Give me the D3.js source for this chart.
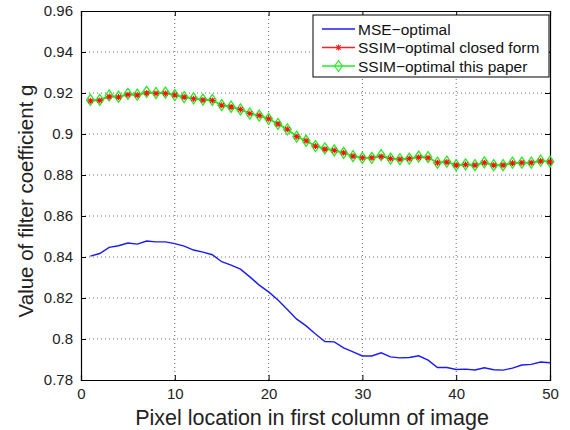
<!DOCTYPE html>
<html>
<head>
<meta charset="utf-8">
<script src="https://cdn.jsdelivr.net/npm/d3@7"></script>
<style>
  body { margin: 0; background: #fff; }
  text { font-family: "Liberation Sans", Arial, sans-serif; }
</style>
</head>
<body>
<div id="chart"></div>
<script>
// Data
const pixels = d3.range(1, 51);
const mseOptimal = [
  0.8404, 0.8417, 0.8447, 0.8455, 0.8468, 0.8463, 0.8478, 0.8474, 0.8474, 0.8465,
  0.8453, 0.8434, 0.8424, 0.8411, 0.8377, 0.8360, 0.8341, 0.8303, 0.8263, 0.8230,
  0.8190, 0.8144, 0.8097, 0.8064, 0.8024, 0.7988, 0.7986, 0.7957, 0.7937, 0.7917,
  0.7917, 0.7933, 0.7913, 0.7908, 0.7910, 0.7918, 0.7897, 0.7861, 0.7861, 0.7851,
  0.7853, 0.7849, 0.7860, 0.7850, 0.7848, 0.7858, 0.7873, 0.7876, 0.7888, 0.7884
];
const ssimClosed = [
  0.9162, 0.9164, 0.9182, 0.9180, 0.9192, 0.9190, 0.9200, 0.9198, 0.9198, 0.9190,
  0.9180, 0.9172, 0.9166, 0.9164, 0.9140, 0.9132, 0.9120, 0.9100, 0.9090, 0.9074,
  0.9049, 0.9023, 0.8987, 0.8967, 0.8941, 0.8926, 0.8920, 0.8908, 0.8892, 0.8884,
  0.8884, 0.8890, 0.8880, 0.8877, 0.8880, 0.8886, 0.8884, 0.8860, 0.8863, 0.8848,
  0.8851, 0.8848, 0.8860, 0.8848, 0.8848, 0.8858, 0.8860, 0.8860, 0.8868, 0.8864
];
const ssimPaper = [
  0.9166, 0.9166, 0.9188, 0.9182, 0.9196, 0.9192, 0.9206, 0.9200, 0.9202, 0.9190,
  0.9180, 0.9174, 0.9168, 0.9166, 0.9141, 0.9133, 0.9120, 0.9100, 0.9090, 0.9074,
  0.9049, 0.9023, 0.8987, 0.8967, 0.8941, 0.8930, 0.8920, 0.8908, 0.8892, 0.8884,
  0.8884, 0.8897, 0.8880, 0.8877, 0.8880, 0.8890, 0.8887, 0.8860, 0.8865, 0.8848,
  0.8852, 0.8848, 0.8862, 0.8848, 0.8848, 0.8860, 0.8860, 0.8860, 0.8870, 0.8865
];
const xTicks = [0, 10, 20, 30, 40, 50];
const yTicks = [0.78, 0.8, 0.82, 0.84, 0.86, 0.88, 0.9, 0.92, 0.94, 0.96];
const legendLabels = ["MSE\u2212optimal", "SSIM\u2212optimal closed form", "SSIM\u2212optimal this paper"];

const svgWidth = 570, svgHeight = 430;
const margin = {top: 11, right: 20, bottom: 50, left: 81};
const width = svgWidth - margin.left - margin.right;
const height = svgHeight - margin.top - margin.bottom;

const svg = d3.select('#chart').append('svg')
  .attr('width', svgWidth)
  .attr('height', svgHeight);

const plot = svg.append('g')
  .attr('transform', 'translate(' + margin.left + ',' + margin.top + ')');

// Scales
const xScale = d3.scaleLinear().domain([0, 50]).range([0, width]);
const yScale = d3.scaleLinear().domain([0.78, 0.96]).range([height, 0]);

// Dotted grid
plot.append('g').selectAll('line')
  .data(xTicks.slice(1, -1))
  .enter().append('line')
    .attr('x1', d => xScale(d)).attr('x2', d => xScale(d))
    .attr('y1', 0).attr('y2', height)
    .attr('stroke', '#444').attr('stroke-width', 0.8)
    .attr('stroke-dasharray', '1,3');

plot.append('g').selectAll('line')
  .data(yTicks.slice(1, -1))
  .enter().append('line')
    .attr('x1', 0).attr('x2', width)
    .attr('y1', d => yScale(d)).attr('y2', d => yScale(d))
    .attr('stroke', '#444').attr('stroke-width', 0.8)
    .attr('stroke-dasharray', '1,3');

// Axes (ticks inside, box style)
const fmtY = d => String(+d.toFixed(2));
const xAxis = d3.axisBottom(xScale).tickValues(xTicks).tickSize(-5).tickPadding(8).tickFormat(d3.format('d'));
const yAxis = d3.axisLeft(yScale).tickValues(yTicks).tickSize(-5).tickPadding(8).tickFormat(fmtY);

plot.append('g')
  .attr('transform', 'translate(0,' + height + ')')
  .call(xAxis)
  .call(g => g.selectAll('text').style('font-size', '15px').attr('fill', '#222'));

plot.append('g')
  .call(yAxis)
  .call(g => g.selectAll('text').style('font-size', '15px').attr('fill', '#222'));

plot.append('g')
  .call(d3.axisTop(xScale).tickValues(xTicks).tickSize(-5).tickFormat(''));
plot.append('g')
  .attr('transform', 'translate(' + width + ',0)')
  .call(d3.axisRight(yScale).tickValues(yTicks).tickSize(-5).tickFormat(''));

plot.selectAll('.domain').attr('stroke', '#000').attr('stroke-width', 1.2);
plot.selectAll('.tick line').attr('stroke', '#000');

// Line generator
const line = d3.line()
  .x((d, i) => xScale(pixels[i]))
  .y(d => yScale(d));

// MSE-optimal
plot.append('path')
  .attr('d', line(mseOptimal))
  .attr('fill', 'none').attr('stroke', '#1a1aff').attr('stroke-width', 1.4);

// SSIM-optimal closed form (red, asterisk)
plot.append('path')
  .attr('d', line(ssimClosed))
  .attr('fill', 'none').attr('stroke', '#ff2020').attr('stroke-width', 1.2);

// SSIM-optimal this paper (green, diamond)
plot.append('path')
  .attr('d', line(ssimPaper))
  .attr('fill', 'none').attr('stroke', '#22ee22').attr('stroke-width', 1.6);

const diamond = 'M0,-5.5L3.8,0L0,5.5L-3.8,0Z';
const asterisk = 'M-3,0L3,0M0,-3L0,3M-2.2,-2.2L2.2,2.2M-2.2,2.2L2.2,-2.2';

plot.append('g').selectAll('path')
  .data(ssimPaper)
  .enter().append('path')
    .attr('transform', (d, i) => 'translate(' + xScale(pixels[i]) + ',' + yScale(d) + ')')
    .attr('d', diamond)
    .attr('fill', 'none').attr('stroke', '#22ee22').attr('stroke-width', 1.3);

plot.append('g').selectAll('path')
  .data(ssimClosed)
  .enter().append('path')
    .attr('transform', (d, i) => 'translate(' + xScale(pixels[i]) + ',' + yScale(d) + ')')
    .attr('d', asterisk)
    .attr('fill', 'none').attr('stroke', '#ff1010').attr('stroke-width', 1.1);

// Axis labels
svg.append('text')
  .attr('x', 312)
  .attr('y', 425)
  .attr('text-anchor', 'middle')
  .style('font-size', '21.5px')
  .attr('fill', '#222')
  .text('Pixel location in first column of image');

svg.append('text')
  .attr('transform', 'translate(33,201) rotate(-90)')
  .attr('text-anchor', 'middle')
  .style('font-size', '20.5px')
  .attr('fill', '#222')
  .text('Value of filter coefficient g');

// Legend
const legend = svg.append('g').attr('transform', 'translate(313,15)');
legend.append('rect')
  .attr('width', 236).attr('height', 62)
  .attr('fill', '#fff').attr('stroke', '#000').attr('stroke-width', 1);

const legendColors = ['#1a1aff', '#ff2020', '#22ee22'];
const legendMarks = [null, asterisk, diamond];
legendLabels.forEach((label, i) => {
  const y = 14 + i * 18.5;
  legend.append('line')
    .attr('x1', 9).attr('x2', 42).attr('y1', y).attr('y2', y)
    .attr('stroke', legendColors[i]).attr('stroke-width', 1.3);
  if (legendMarks[i]) {
    legend.append('path')
      .attr('transform', 'translate(25.5,' + y + ')')
      .attr('d', legendMarks[i])
      .attr('fill', 'none').attr('stroke', legendColors[i]).attr('stroke-width', 1.2);
  }
  legend.append('text')
    .attr('x', 45).attr('y', y + 5.5)
    .style('font-size', '15.5px')
    .attr('fill', '#111')
    .text(label);
});
</script>
</body>
</html>
